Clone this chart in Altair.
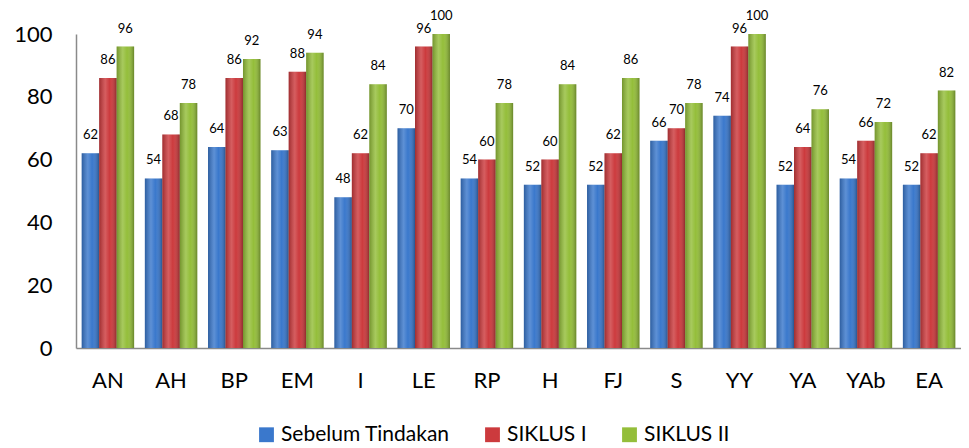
import altair as alt
import pandas as pd

categories = ["AN", "AH", "BP", "EM", "I", "LE", "RP", "H", "FJ", "S", "YY", "YA", "YAb", "EA"]
series_names = ["Sebelum Tindakan", "SIKLUS I", "SIKLUS II"]
sebelum = [62, 54, 64, 63, 48, 70, 54, 52, 52, 66, 74, 52, 54, 52]
siklus1 = [86, 68, 86, 88, 62, 96, 60, 60, 62, 70, 96, 64, 66, 62]
siklus2 = [96, 78, 92, 94, 84, 100, 78, 84, 86, 78, 100, 76, 72, 82]
colors = ["#3A78CC", "#CC3A3D", "#94BE3A"]

rows = []
for s, vals in zip(series_names, [sebelum, siklus1, siklus2]):
    for c, v in zip(categories, vals):
        rows.append({"cat": c, "series": s, "value": v})
df = pd.DataFrame(rows)

FONT = "Lato"

base = alt.Chart(df).encode(
    x=alt.X(
        "cat:N",
        sort=categories,
        scale=alt.Scale(paddingInner=0.17, paddingOuter=0.09),
        axis=alt.Axis(
            title=None, labelAngle=0, labelFontSize=22, labelFont=FONT,
            labelFontWeight=400,
            labelColor="#000", ticks=False, domainColor="#8a8a8a",
            domainWidth=1.5, labelPadding=22,
        ),
    ),
    xOffset=alt.XOffset("series:N", sort=series_names,
                        scale=alt.Scale(paddingInner=0, paddingOuter=0)),
    y=alt.Y(
        "value:Q",
        scale=alt.Scale(domain=[0, 100]),
        axis=alt.Axis(
            title=None, values=[0, 20, 40, 60, 80, 100], labelFontSize=22,
            labelFont=FONT, labelFontWeight=400, labelColor="#000",
            grid=False, ticks=False,
            domainColor="#8a8a8a", domainWidth=1.5, labelPadding=24,
        ),
    ),
)

bars = base.mark_bar().encode(
    color=alt.Color(
        "series:N",
        sort=series_names,
        scale=alt.Scale(domain=series_names, range=colors),
        legend=alt.Legend(
            title=None, orient="none", legendX=180, legendY=390,
            direction="horizontal", symbolType="square", symbolSize=220,
            symbolStrokeWidth=0, labelFontSize=21, labelFont=FONT,
            labelFontWeight=400, labelLimit=0,
            labelColor="#000", columnPadding=32, symbolOffset=0,
        ),
    )
)

shade = base.mark_bar(
    fill=alt.LinearGradient(
        gradient="linear", x1=0, x2=1, y1=0, y2=0,
        stops=[
            alt.GradientStop(offset=0, color="rgba(0,0,0,0.22)"),
            alt.GradientStop(offset=0.35, color="rgba(255,255,255,0.18)"),
            alt.GradientStop(offset=0.6, color="rgba(255,255,255,0.0)"),
            alt.GradientStop(offset=1, color="rgba(0,0,0,0.3)"),
        ],
    )
)

labels = base.mark_text(dy=-18, fontSize=13, font=FONT, fontWeight=400,
                        color="#000").encode(text="value:Q")

chart = (
    alt.layer(bars, shade, labels)
    .properties(width=885, height=314,
                padding={"left": 5, "top": 2, "right": 0, "bottom": 0})
    .configure_view(stroke=None)
)

chart.save("out.html", embed_options={"renderer": "svg", "actions": False})
